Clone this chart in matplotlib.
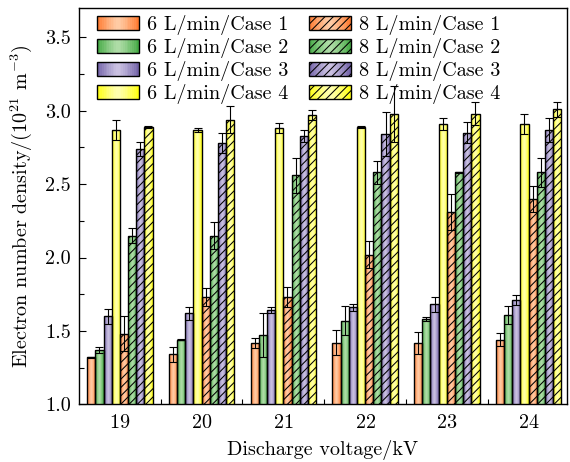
import numpy as np
import matplotlib
matplotlib.use("Agg")
import matplotlib.pyplot as plt
from matplotlib.patches import Rectangle
from matplotlib.legend_handler import HandlerBase
from matplotlib.colors import to_rgb
from matplotlib.ticker import MultipleLocator, FixedLocator

plt.rcParams['font.family'] = ['cmr10', 'DejaVu Serif']
plt.rcParams['mathtext.fontset'] = 'cm'
plt.rcParams['axes.formatter.use_mathtext'] = True
plt.rcParams['hatch.linewidth'] = 0.75

voltages = [19, 20, 21, 22, 23, 24]

labels = ["6 L/min/Case 1", "6 L/min/Case 2", "6 L/min/Case 3", "6 L/min/Case 4",
          "8 L/min/Case 1", "8 L/min/Case 2", "8 L/min/Case 3", "8 L/min/Case 4"]

v6_c1 = [1.32, 1.34, 1.42, 1.42, 1.42, 1.44]
v6_c2 = [1.37, 1.44, 1.47, 1.57, 1.58, 1.61]
v6_c3 = [1.60, 1.62, 1.64, 1.66, 1.68, 1.71]
v6_c4 = [2.87, 2.87, 2.88, 2.89, 2.91, 2.91]
v8_c1 = [1.48, 1.73, 1.73, 2.02, 2.31, 2.40]
v8_c2 = [2.15, 2.15, 2.56, 2.58, 2.58, 2.58]
v8_c3 = [2.74, 2.78, 2.83, 2.84, 2.85, 2.87]
v8_c4 = [2.89, 2.94, 2.97, 2.98, 2.98, 3.01]

e6_c1 = [0.005, 0.05, 0.035, 0.085, 0.075, 0.045]
e6_c2 = [0.02, 0.005, 0.15, 0.10, 0.015, 0.06]
e6_c3 = [0.05, 0.045, 0.02, 0.025, 0.05, 0.035]
e6_c4 = [0.07, 0.015, 0.035, 0.005, 0.04, 0.07]
e8_c1 = [0.12, 0.06, 0.07, 0.09, 0.12, 0.09]
e8_c2 = [0.05, 0.095, 0.12, 0.08, 0.005, 0.10]
e8_c3 = [0.05, 0.07, 0.04, 0.15, 0.07, 0.08]
e8_c4 = [0.005, 0.095, 0.035, 0.19, 0.08, 0.05]

values = [v6_c1, v6_c2, v6_c3, v6_c4, v8_c1, v8_c2, v8_c3, v8_c4]
errors = [e6_c1, e6_c2, e6_c3, e6_c4, e8_c1, e8_c2, e8_c3, e8_c4]

edge_cols = ["#FF7A30", "#45AA45", "#7363A8", "#FFFF10"] * 2
mid_cols = ["#FFCCA6", "#B0DDA8", "#CBC2E2", "#FFFFB0"] * 2
hatches = [None] * 4 + ["////"] * 4

Y_MIN, Y_MAX = 1.0, 3.70
FS = 14.5


def grad_array(c_edge, c_mid, n=32):
    e = np.array(to_rgb(c_edge))
    m = np.array(to_rgb(c_mid))
    t = np.linspace(0, 1, n)
    w = 1 - np.abs(2 * t - 1) ** 1.3
    return (e[None, :] * (1 - w[:, None]) + m[None, :] * w[:, None])[None, :, :]


class GradHandler(HandlerBase):
    def __init__(self, c_edge, c_mid, hatch):
        super().__init__()
        self.c_edge, self.c_mid, self.hatch = c_edge, c_mid, hatch

    def create_artists(self, legend, orig_handle, xdescent, ydescent,
                       width, height, fontsize, trans):
        arts = []
        n = 24
        cols = grad_array(self.c_edge, self.c_mid, n)[0]
        for i in range(n):
            r = Rectangle((-xdescent + i * width / n, -ydescent), width / n + 0.3, height,
                          facecolor=cols[i], edgecolor='none', transform=trans)
            arts.append(r)
        outline = Rectangle((-xdescent, -ydescent), width, height, facecolor='none',
                            edgecolor='black', lw=1.0, hatch=self.hatch, transform=trans)
        arts.append(outline)
        return arts


fig = plt.figure(figsize=(5.70, 4.62), dpi=100)
ax = fig.add_axes([0.1386, 0.1249, 0.8561, 0.8578])

x = np.array(voltages, dtype=float)
width = 0.1
handles = []
for i in range(8):
    pos = x + (i - 3.5) * width
    bars = ax.bar(pos, values[i], width=width, bottom=0, facecolor='none',
                  edgecolor='black', linewidth=1.0, hatch=hatches[i], zorder=2,
                  label=labels[i])
    garr = grad_array(edge_cols[i], mid_cols[i])
    for b in bars:
        x0 = b.get_x()
        x1 = x0 + b.get_width()
        y1 = b.get_height()
        im = ax.imshow(garr, extent=(x0, x1, Y_MIN, y1), aspect='auto',
                       interpolation='bilinear', zorder=1, origin='lower')
        im.set_clip_path(b)
    ax.errorbar(pos, values[i], yerr=errors[i], fmt='none', ecolor='black',
                elinewidth=0.8, capsize=3, capthick=0.8, zorder=3)
    handles.append(bars)

ax.set_xlim(18.5, 24.47)
ax.set_ylim(Y_MIN, Y_MAX)

ax.xaxis.set_major_locator(FixedLocator(voltages))
ax.xaxis.set_minor_locator(FixedLocator([19.5, 20.5, 21.5, 22.5, 23.5]))
ax.yaxis.set_major_locator(MultipleLocator(0.5))
ax.yaxis.set_minor_locator(MultipleLocator(0.25))
ax.yaxis.set_major_formatter(matplotlib.ticker.FormatStrFormatter('%.1f'))
ax.tick_params(axis='both', which='both', direction='in', labelsize=FS,
               top=False, right=False)
ax.tick_params(axis='x', which='major', length=0, pad=7)
ax.tick_params(axis='x', which='minor', length=3.5, width=0.8)
ax.tick_params(axis='y', which='major', length=5, width=0.8, pad=6)
ax.tick_params(axis='y', which='minor', length=3.5, width=0.8)
for s in ax.spines.values():
    s.set_linewidth(1.0)

ax.set_xlabel("Discharge voltage/kV", fontsize=FS, labelpad=6)
ax.set_ylabel("Electron number density/(10$^{21}$ m$^{-3}$)", fontsize=FS, labelpad=8)

hmap = {handles[i]: GradHandler(edge_cols[i], mid_cols[i], hatches[i]) for i in range(8)}
ax.legend(handles=handles, labels=labels, ncol=2, loc='upper left', frameon=False,
          fontsize=FS, handlelength=2.1, handleheight=0.65, handletextpad=0.4,
          columnspacing=1.0, labelspacing=0.15, handler_map=hmap,
          bbox_to_anchor=(0.024, 0.997), borderaxespad=0.0, borderpad=0.3)

fig.savefig("out.png", dpi=100)
